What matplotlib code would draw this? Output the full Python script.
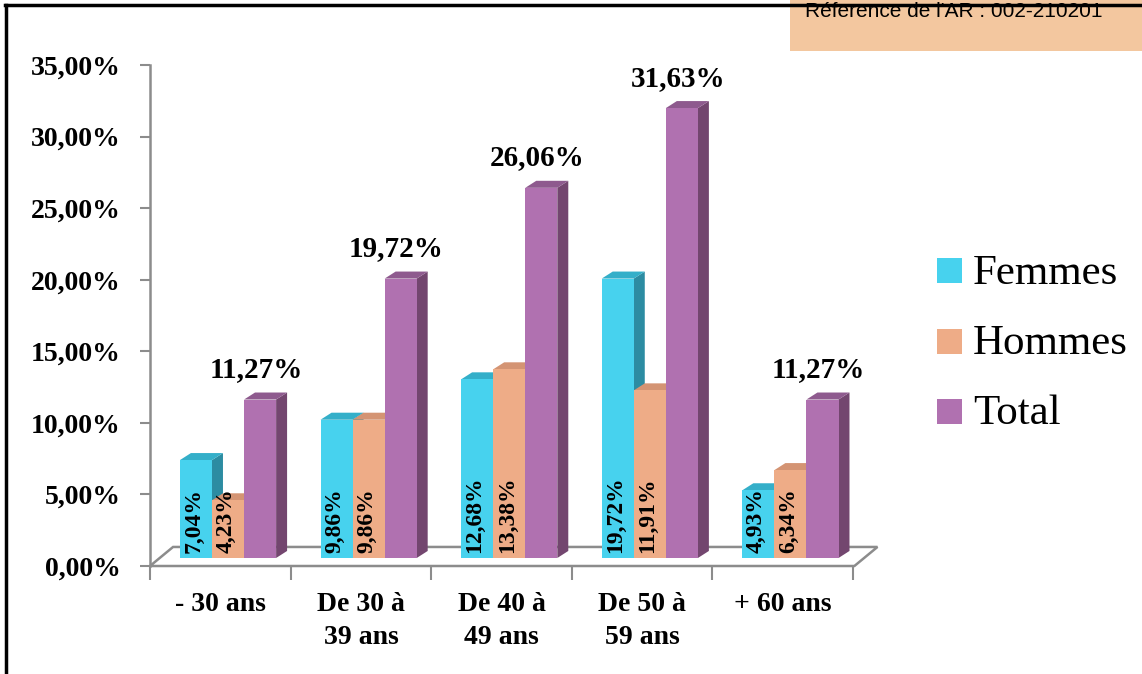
import matplotlib.pyplot as plt
import matplotlib.patches as patches
import numpy as np

# Data
categories = ["- 30 ans", "De 30 à\n39 ans", "De 40 à\n49 ans", "De 50 à\n59 ans", "+ 60 ans"]
series = ["Femmes", "Hommes", "Total"]
femmes = [7.04, 9.86, 12.68, 19.72, 4.93]
hommes = [4.23, 9.86, 13.38, 11.91, 6.34]
total = [11.27, 19.72, 26.06, 31.63, 11.27]
labels_f = ["7,04%", "9,86%", "12,68%", "19,72%", "4,93%"]
labels_h = ["4,23%", "9,86%", "13,38%", "11,91%", "6,34%"]
labels_t = ["11,27%", "19,72%", "26,06%", "31,63%", "11,27%"]
yticks = [0, 5, 10, 15, 20, 25, 30, 35]
ytick_labels = ["0,00%", "5,00%", "10,00%", "15,00%", "20,00%", "25,00%", "30,00%", "35,00%"]

# colours: front, top, side
colors = {
    "Femmes": ("#47D2EE", "#34AFC9", "#2C8CA2"),
    "Hommes": ("#EEAC87", "#D49473", "#B9805F"),
    "Total": ("#B071B0", "#8E5A8E", "#73466F"),
}

serif = "Liberation Serif"

fig = plt.figure(figsize=(11.42, 6.74), dpi=100)
W, H = 1142, 674
ax = fig.add_axes([150 / W, (H - 566) / H, 703 / W, 501 / H])
ax.set_xlim(0, 5)
ax.set_ylim(0, 35)

# 3D offsets in data units
dx_bar, dy_bar = 0.078, 0.49      # depth of one bar
y_off = 0.56                       # bars sit in the middle of the floor
top_shift = -0.2                   # front face top relative to value + y_off
dx_floor, dy_floor = 0.164, 1.33
bar_w = 0.228
starts = [0.213, 0.441, 0.669]

# floor
floor = patches.Polygon([(0, 0), (5.01, 0), (5.01 + dx_floor, dy_floor), (dx_floor, dy_floor)],
                        closed=True, facecolor="white", edgecolor="#8C8C8C", lw=1.8,
                        clip_on=False, zorder=1)
ax.add_patch(floor)

def draw_bar(x0, val, name):
    front, top, side = colors[name]
    b = y_off
    t = y_off + val + top_shift
    x1 = x0 + bar_w
    ax.add_patch(patches.Polygon([(x1, b), (x1 + dx_bar, b + dy_bar), (x1 + dx_bar, t + dy_bar), (x1, t)],
                                 closed=True, facecolor=side, edgecolor="none", zorder=2, clip_on=False))
    ax.add_patch(patches.Polygon([(x0, t), (x1, t), (x1 + dx_bar, t + dy_bar), (x0 + dx_bar, t + dy_bar)],
                                 closed=True, facecolor=top, edgecolor="none", zorder=2, clip_on=False))
    ax.add_patch(patches.Rectangle((x0, b), bar_w, t - b, facecolor=front, edgecolor="none",
                                   zorder=2, clip_on=False))

for i in range(len(categories)):
    for j, (name, vals) in enumerate(zip(series, [femmes, hommes, total])):
        draw_bar(i + starts[j], vals[i], name)
    # inside labels
    for j, labs in enumerate([labels_f, labels_h]):
        ax.text(i + starts[j] + bar_w / 2 - 0.015, y_off + 0.35, labs[i], rotation=90,
                ha="center", va="bottom", fontsize=17, fontweight="bold",
                family=serif, color="black", zorder=5)
    ax.text(i + starts[2] + bar_w / 2 - 0.03, y_off + total[i] + 0.95, labels_t[i],
            ha="center", va="bottom", fontsize=21, fontweight="bold",
            family=serif, color="black", zorder=5)

# axes styling
for s in ["top", "right", "bottom"]:
    ax.spines[s].set_visible(False)
ax.spines["left"].set_color("#8C8C8C")
ax.spines["left"].set_linewidth(1.8)
ax.set_yticks(yticks)
ax.set_yticklabels(ytick_labels, fontsize=20, fontweight="bold", family=serif)
ax.tick_params(axis="y", length=7, width=1.5, color="#8C8C8C", pad=14)
ax.set_xticks(np.arange(0, 6))
ax.set_xticklabels([""] * 6)
ax.set_xticks(np.arange(len(categories)) + 0.5, minor=True)
ax.set_xticklabels(categories, minor=True, fontsize=20, fontweight="bold",
                   family=serif, linespacing=1.4)
ax.tick_params(axis="x", which="major", length=10, width=1.5, color="#8C8C8C")
ax.tick_params(axis="x", which="minor", length=0, pad=19)
ax.patch.set_visible(False)

# legend
for k, name in enumerate(series):
    yc = 271 + 70 * k
    fig.patches.append(patches.Rectangle((937 / W, (H - yc - 12.5) / H), 25 / W, 25 / H,
                                         facecolor=colors[name][0], edgecolor="none",
                                         transform=fig.transFigure, figure=fig))
    fig.text(973 / W, (H - yc - 3) / H, name, fontsize=31, family=serif, va="center", ha="left")

# outer frame
fig.add_artist(plt.Line2D([6 / W, 6 / W], [0, (H - 5) / H], color="black", lw=2.5,
                          transform=fig.transFigure))
fig.add_artist(plt.Line2D([5 / W, 1], [(H - 5) / H, (H - 5) / H], color="black", lw=2.5,
                          transform=fig.transFigure))
# reference box
fig.patches.append(patches.Rectangle((790 / W, (H - 51) / H), 352 / W, 51 / H,
                                     facecolor="#F2BE8E", edgecolor="none", alpha=0.85,
                                     transform=fig.transFigure, figure=fig))
fig.text(805 / W, (H - 17) / H, "Réference de l'AR : 002-210201", fontsize=15,
         family="Liberation Sans", va="baseline", ha="left")

fig.savefig("out.png", dpi=100)
